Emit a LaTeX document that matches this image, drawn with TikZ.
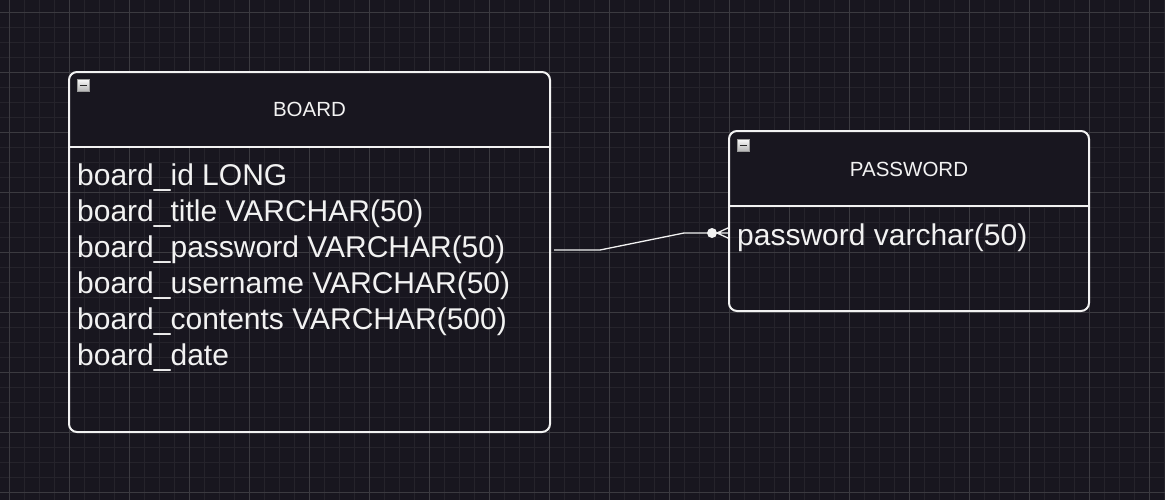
\documentclass[tikz,border=0pt]{standalone}
\usepackage{fontspec}
\setmainfont{Liberation Sans}
\usetikzlibrary{positioning}

\definecolor{canvas}{HTML}{18161F}
\definecolor{gridminor}{HTML}{25232B}
\definecolor{gridmajor}{HTML}{3B3A40}
\definecolor{ink}{HTML}{F2F2F2}

\begin{document}
\begin{tikzpicture}[x=1pt, y=-1pt]
\tikzstyle{entity}=[rectangle, draw=ink, line width=2pt, rounded corners=8pt, outer sep=0pt, anchor=north west, path picture={
  \fill[canvas, sharp corners] (path picture bounding box.north west) rectangle ([yshift=-75pt]path picture bounding box.north east);
  \draw[ink, line width=2pt, sharp corners] ([yshift=-75pt]path picture bounding box.north west) -- ([yshift=-75pt]path picture bounding box.north east);}];
\tikzstyle{title}=[text=ink, font=\fontsize{20.5}{24}\selectfont, inner sep=0pt];
\tikzstyle{field}=[text=ink, font=\fontsize{30}{36}\selectfont, inner sep=0pt, anchor=base west];
\tikzstyle{toggle}=[rectangle, draw=gray!80, line width=1pt, top color=gray!5, bottom color=gray!60, minimum width=12pt, minimum height=12pt, inner sep=0pt, outer sep=0pt, anchor=north west, path picture={
  \draw[black!85, line width=1.8pt] ([xshift=2.5pt]path picture bounding box.west) -- ([xshift=-2.5pt]path picture bounding box.east);}];
\tikzstyle{link}=[draw=ink, line width=1.3pt];

% canvas and grid
\useasboundingbox (0,0) rectangle (1165,499);
\fill[canvas] (-5,-5) rectangle (1170,504);
\begin{scope}
\clip (-5,-5) rectangle (1170,504);
\draw[gridminor, line width=1pt, step=15pt, shift={(9.5,12.5)}] (-15,-15) grid (1170,500);
\draw[gridmajor, line width=1pt, step=60pt, shift={(9.5,12.5)}] (-60,-60) grid (1200,540);
\end{scope}

% tables
\node[entity, minimum width=481pt, minimum height=360pt] (board) at (69,72) {};
\node[title] (board title) at ([yshift=-37.5pt]board.north) {BOARD};
\node[toggle] (board toggle) at ([xshift=8pt, yshift=-7.5pt]board.north west) {};

\node[entity, minimum width=360pt, minimum height=180pt] (password) at (729,131) {};
\node[title] (password title) at ([yshift=-38.5pt]password.north) {PASSWORD};
\node[toggle] (password toggle) at ([xshift=8pt, yshift=-8.5pt]password.north west) {};

\node[field] (board id) at (77,185) {board\_id LONG};
\node[field] (board title col) at (77,221) {board\_title VARCHAR(50)};
\node[field] (board pass) at (77,257) {board\_password VARCHAR(50)};
\node[field] (board user) at (77,293) {board\_username VARCHAR(50)};
\node[field] (board text) at (77,329) {board\_contents VARCHAR(500)};
\node[field] (board date) at (77,365) {board\_date};

\node[field] (pw field) at (737,245) {password varchar(50)};

% relation
\coordinate (fk start) at (554,250);
\coordinate (fk end) at (password.west |- 0,233);
\draw[link] (fk start) -- ++(46,0) -- (684,233) -- ([xshift=-12pt]fk end);
\fill[ink] ([xshift=-17pt]fk end) circle (5pt);
\draw[link] ([xshift=-12pt]fk end) -- ([yshift=5.5pt]fk end)
  ([xshift=-12pt]fk end) -- (fk end)
  ([xshift=-12pt]fk end) -- ([yshift=-5.5pt]fk end);

\end{tikzpicture}
\end{document}
